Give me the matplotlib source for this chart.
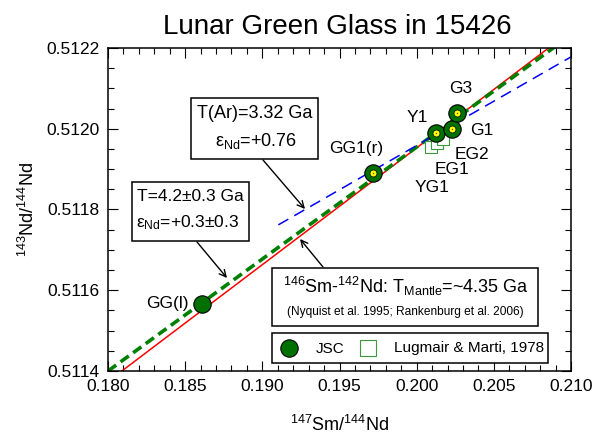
import matplotlib

matplotlib.use("Agg")
import matplotlib.pyplot as plt
from matplotlib.patches import Rectangle
from matplotlib.ticker import MultipleLocator

plt.rcParams["font.family"] = ["Liberation Sans", "DejaVu Sans"]
plt.rcParams["mathtext.fontset"] = "custom"
plt.rcParams["mathtext.rm"] = "Liberation Sans"
plt.rcParams["mathtext.it"] = "Liberation Sans:italic"

# JSC glass analyses
jsc_labels = ["GG(l)", "GG1(r)", "Y1", "G1", "G3"]
jsc_sm = [0.18607, 0.19719, 0.20124, 0.20231, 0.20260]
jsc_nd = [0.511566, 0.511891, 0.511989, 0.511999, 0.512040]
jsc_dot = [False, True, True, True, True]

# Lugmair & Marti (1978)
lm_labels = ["YG1", "EG1", "EG2"]
lm_sm = [0.20093, 0.20132, 0.20171]
lm_nd = [0.511955, 0.511965, 0.511975]

# isochron / reference lines (end points)
red_x = [0.1800, 0.2100]
red_y = [0.511374, 0.512242]
green_x = [0.1800, 0.2100]
green_y = [0.511400, 0.512232]
blue_x = [0.19104, 0.2100]
blue_y = [0.511762, 0.512178]

W, H = 596, 436
L, R, T, B = 108, 571, 48, 371


def px(x, y):
    """pixel position -> axes fraction"""
    return ((x - L) / (R - L), (B - y) / (B - T))


fig = plt.figure(figsize=(W / 100, H / 100), dpi=100)
ax = fig.add_axes([L / W, 1 - B / H, (R - L) / W, (B - T) / H])

ax.plot(red_x, red_y, color="#ff0000", lw=1.1, zorder=2)
ax.plot(green_x, green_y, color="#008000", lw=2.6, dashes=(2.8, 1.5), zorder=2)
ax.plot(blue_x, blue_y, color="#0000ff", lw=1.1, dashes=(7.5, 4.5), zorder=2)

ax.plot(lm_sm, lm_nd, ls="none", marker="s", ms=8.5, mfc="white",
        mec="#3a9a3a", mew=0.8, zorder=3)

for x, y, dot in zip(jsc_sm, jsc_nd, jsc_dot):
    ax.plot(x, y, marker="o", ms=12.5, mfc="#007000", mec="black",
            mew=0.8, zorder=4)
    if dot:
        ax.plot(x, y, marker="o", ms=5, mfc="#ffff00", mec="black",
                mew=0.5, zorder=5)
        ax.plot(x, y, marker="o", ms=1, mfc="#555500", mec="none", zorder=6)

label_fs = 12.5
jsc_off = {"GG(l)": (-9.5, 0, "right"), "GG1(r)": (-12, 17.5, "center"),
           "Y1": (-13, 11.5, "center"), "G1": (21, -1.2, "center"),
           "G3": (3, 17, "center")}
for lab, x, y in zip(jsc_labels, jsc_sm, jsc_nd):
    dx, dy, ha = jsc_off[lab]
    ax.annotate(lab, (x, y), xytext=(dx, dy), textcoords="offset points",
                ha=ha, va="center", fontsize=label_fs, zorder=7)
lm_off = {"YG1": (1, -29.5), "EG1": (11, -19.5), "EG2": (21, -11)}
for lab, x, y in zip(lm_labels, lm_sm, lm_nd):
    dx, dy = lm_off[lab]
    ax.annotate(lab, (x, y), xytext=(dx, dy), textcoords="offset points",
                ha="center", va="center", fontsize=label_fs, zorder=7)

ax.set_xlim(0.180, 0.210)
ax.set_ylim(0.5114, 0.5122)
ax.xaxis.set_major_locator(MultipleLocator(0.005))
ax.xaxis.set_minor_locator(MultipleLocator(0.001))
ax.yaxis.set_major_locator(MultipleLocator(0.0002))
ax.yaxis.set_minor_locator(MultipleLocator(0.00005))
ax.xaxis.set_major_formatter(lambda v, p: f"{v:.3f}")
ax.yaxis.set_major_formatter(lambda v, p: f"{v:.4f}")
ax.tick_params(which="both", direction="in", top=True, right=True,
               width=0.8, labelsize=12.5)
ax.tick_params(which="major", length=7, pad=6)
ax.tick_params(which="minor", length=4.5)
for s in ax.spines.values():
    s.set_linewidth(1.1)

ax.set_xlabel("$^{147}$Sm/$^{144}$Nd", fontsize=13, labelpad=15)
ax.set_ylabel("$^{143}$Nd/$^{144}$Nd", fontsize=13, labelpad=6)
fig.text(337.5 / W, 1 - 27 / H, "Lunar Green Glass in 15426",
         ha="center", va="center", fontsize=20)


def box(x0, y0, x1, y1):
    a0 = px(x0, y1)
    a1 = px(x1, y0)
    ax.add_patch(Rectangle(a0, a1[0] - a0[0], a1[1] - a0[1],
                           transform=ax.transAxes, fill=True, fc="white",
                           ec="black", lw=1.1, zorder=8, clip_on=False))


def arrow(x0, y0, x1, y1):
    ax.annotate("", xy=px(x1, y1), xytext=px(x0, y0), xycoords="axes fraction",
                textcoords="axes fraction", zorder=8,
                arrowprops=dict(arrowstyle="->", lw=1.0, color="black",
                                mutation_scale=12, shrinkA=0, shrinkB=0))


def label(x, y, s, fs, ha="center"):
    ax.text(*px(x, y), s, transform=ax.transAxes, ha=ha, va="center",
            fontsize=fs, zorder=9)


# T(Ar) box
box(191, 98, 318, 159)
label(254.5, 114, "T(Ar)=3.32 Ga", 13)
label(256, 141, "ε$_{\\rm Nd}$=+0.76", 13)
arrow(263, 160, 305, 209)

# T box
box(132, 182, 249, 241)
label(137, 197, "T=4.2±0.3 Ga", 12.5, ha="left")
label(136, 223, "ε$_{\\rm Nd}$=+0.3±0.3", 12.5, ha="left")
arrow(197, 242, 227, 278)

# Sm-Nd box
box(272, 268, 538, 326)
label(406, 286, "$^{146}$Sm-$^{142}$Nd: T$_{\\rm Mantle}$=~4.35 Ga", 13)
label(405, 312, "(Nyquist et al. 1995; Rankenburg et al. 2006)", 8.6)
arrow(323, 267, 300, 239)

# legend box
box(272, 333, 548, 363)
ax.plot(*px(289, 348), transform=ax.transAxes, marker="o", ms=12.5,
        mfc="#007000", mec="black", mew=0.8, zorder=9, clip_on=False)
label(316, 349, "JSC", 11, ha="left")
ax.plot(*px(368, 348), transform=ax.transAxes, marker="s", ms=11,
        mfc="white", mec="#3a9a3a", mew=0.8, zorder=9, clip_on=False)
label(394, 348, "Lugmair & Marti, 1978", 11, ha="left")

fig.savefig("out.png", dpi=100)
